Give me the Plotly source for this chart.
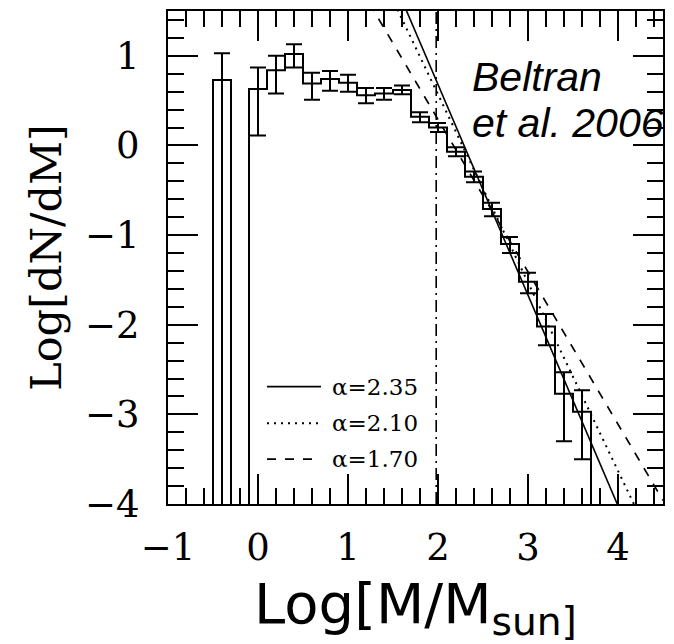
import plotly.graph_objects as go

# Mass function histogram: bins of 0.2 dex in log M
bin_centers = [-0.4, 0.0, 0.2, 0.4, 0.6, 0.8, 1.0, 1.2, 1.4, 1.6, 1.8,
               2.0, 2.2, 2.4, 2.6, 2.8, 3.0, 3.2, 3.4, 3.6]
log_dndm = [0.73, 0.63, 0.84, 1.02, 0.69, 0.74, 0.70, 0.56, 0.58, 0.62, 0.32,
            0.20, -0.07, -0.35, -0.71, -1.10, -1.52, -2.02, -2.77, -2.97]
err_top = [1.03, 0.87, 1.00, 1.13, 0.81, 0.83, 0.79, 0.64, 0.64, 0.67, 0.37,
           0.25, -0.02, -0.29, -0.64, -1.02, -1.42, -1.88, -2.53, -2.73]
# None: lower bound runs off the bottom of the plot
err_bottom = [None, 0.11, 0.58, 0.87, 0.51, 0.61, 0.60, 0.47, 0.51, 0.57, 0.26,
              0.15, -0.12, -0.41, -0.79, -1.20, -1.65, -2.23, -3.30, -3.50]
bin_width = 0.2

# Power-law IMF slopes and their intercepts in log space
imf_alpha = [2.35, 2.10, 1.70]
imf_intercept = [5.38, 4.77, 3.69]
imf_labels = ["α=2.35", "α=2.10", "α=1.70"]
imf_dash = ["solid", "2px,5px", "9px,9px"]
imf_width = [1.6, 2.0, 1.6]

completeness_logm = 1.98

x_range = [-1, 4.5]
y_range = [-4, 1.5]
floor = -4.6

# Build the step outline, one closed run per group of adjacent bins
step_x, step_y = [], []
runs = []
for i, c in enumerate(bin_centers):
    if runs and abs(c - bin_centers[i - 1] - bin_width) < 1e-6:
        runs[-1].append(i)
    else:
        runs.append([i])
for run in runs:
    left = bin_centers[run[0]] - bin_width / 2
    step_x += [left]
    step_y += [floor]
    for i in run:
        l = bin_centers[i] - bin_width / 2
        r = bin_centers[i] + bin_width / 2
        step_x += [l, r]
        step_y += [log_dndm[i], log_dndm[i]]
    step_x += [step_x[-1], None]
    step_y += [floor, None]

plus = [t - v for t, v in zip(err_top, log_dndm)]
minus = [(v - (b if b is not None else floor)) for b, v in zip(err_bottom, log_dndm)]

fig = go.Figure()
fig.add_trace(go.Scatter(x=step_x, y=step_y, mode="lines",
                         line=dict(color="black", width=2),
                         showlegend=False, hoverinfo="skip"))
fig.add_trace(go.Scatter(x=bin_centers, y=log_dndm, mode="markers",
                         marker=dict(size=0.1, color="black"),
                         error_y=dict(type="data", symmetric=False, array=plus,
                                      arrayminus=minus, color="black",
                                      thickness=2, width=8),
                         showlegend=False, hoverinfo="skip"))

for a, b, lab, d, w in zip(imf_alpha, imf_intercept, imf_labels, imf_dash, imf_width):
    fig.add_trace(go.Scatter(x=x_range, y=[b - a * x for x in x_range], mode="lines",
                             line=dict(color="black", width=w, dash=d),
                             name=lab, showlegend=False, hoverinfo="skip"))

fig.add_shape(type="line", xref="x", yref="paper", x0=completeness_logm,
              x1=completeness_logm, y0=0, y1=1,
              line=dict(color="black", width=1.6, dash="12px,5px,2px,5px"))

# Hand-placed key for the three slopes
key_y = [0.238, 0.164, 0.091]
for yy, lab, d, w in zip(key_y, imf_labels, imf_dash, imf_width):
    fig.add_shape(type="line", xref="paper", yref="paper", x0=0.2, x1=0.309,
                  y0=yy, y1=yy, line=dict(color="black", width=w, dash=d))
    fig.add_annotation(xref="paper", yref="paper", x=0.327, y=yy, text=lab,
                       showarrow=False, xanchor="left", yanchor="middle",
                       font=dict(family="DejaVu Serif", size=23, color="black"))

fig.add_annotation(xref="paper", yref="paper", x=0.61, y=0.867, text="<i>Beltran</i>",
                   showarrow=False, xanchor="left", yanchor="middle",
                   font=dict(family="Liberation Sans", size=41, color="black"))
fig.add_annotation(xref="paper", yref="paper", x=0.61, y=0.772, text="<i>et al. 2006</i>",
                   showarrow=False, xanchor="left", yanchor="middle",
                   font=dict(family="Liberation Sans", size=41, color="black"))

axis_common = dict(showline=True, linewidth=2, linecolor="black", mirror="allticks",
                   ticks="inside", ticklen=30, tickwidth=2, tickcolor="black",
                   showgrid=False, zeroline=False, dtick=1, tick0=0,
                   tickfont=dict(family="DejaVu Serif", size=37, color="black"),
                   minor=dict(dtick=0.2, ticks="inside", ticklen=16, tickwidth=2,
                              tickcolor="black", showgrid=False))

fig.update_xaxes(range=x_range, ticklabelstandoff=10,
                 title=dict(text="Log[M/M<sub>sun]</sub>", standoff=26,
                            font=dict(family="DejaVu Sans", size=56, color="black")),
                 **axis_common)
fig.update_yaxes(range=y_range, ticklabelstandoff=19,
                 title=dict(text="Log[dN/dM]", standoff=10,
                            font=dict(family="DejaVu Serif", size=43, color="black")),
                 **axis_common)

fig.update_layout(width=674, height=644, margin=dict(l=168, r=11, t=9, b=140),
                  paper_bgcolor="white", plot_bgcolor="white", showlegend=False)

fig.write_html("out.html")
